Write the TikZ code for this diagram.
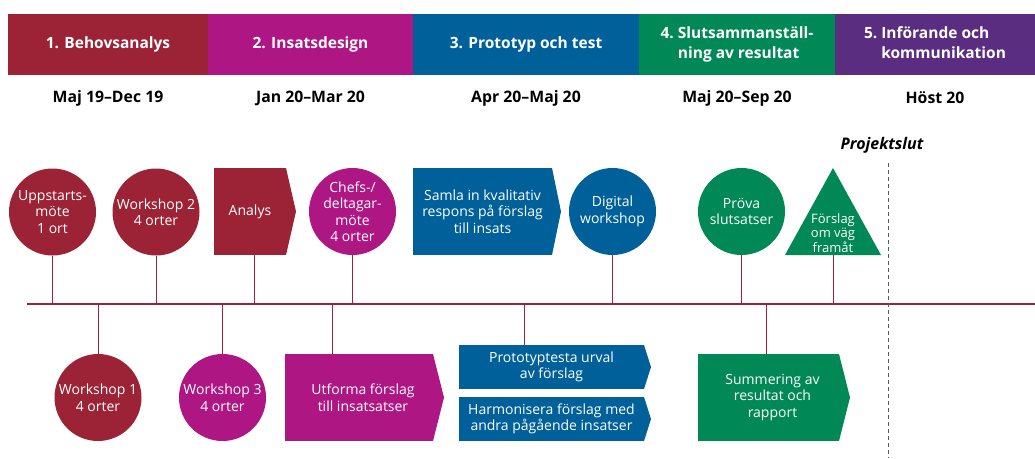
\documentclass[tikz,border=0pt]{standalone}
\usepackage{fontspec}
\setmainfont{Open Sans}
\usetikzlibrary{calc, positioning}

\definecolor{fasred}{RGB}{156,34,53}
\definecolor{fasmagenta}{RGB}{174,23,131}
\definecolor{fasblue}{RGB}{0,96,154}
\definecolor{fasgreen}{RGB}{0,136,86}
\definecolor{faspurple}{RGB}{90,45,129}

\begin{document}
\begin{tikzpicture}[x=1pt, y=-1pt,
    phase/.style={anchor=north west, minimum height=61, inner sep=0, outer sep=0, text=white,
      font=\bfseries\fontsize{15.5}{20}\selectfont, align=left},
    period/.style={font=\bfseries\fontsize{15.8}{18}\selectfont},
    event/.style={circle, minimum size=87, inner sep=0, text=white, align=center,
      font=\fontsize{14}{16.5}\selectfont},
    task/.style={rectangle, inner sep=0, outer sep=0, text=white, align=center,
      font=\fontsize{14}{16.5}\selectfont},
    stem/.style={fasred, line width=1}]
    \useasboundingbox (0,0) rectangle (1035,458);

    % Phase bar
    \node[phase, fill=fasred, minimum width=200, align=center] (phase1) at (8,14) {1. Behovsanalys};
    \node[phase, fill=fasmagenta, minimum width=205, right=0 of phase1] (phase2) {2. Insatsdesign};
    \node[phase, fill=fasblue, minimum width=226, right=0 of phase2] (phase3) {3. Prototyp och test};
    \node[phase, fill=fasgreen, minimum width=196, right=0 of phase3] (phase4)
      {\begin{tabular}{@{}l@{\ }l@{}}4.&Slutsammanställ-\\&ning av resultat\end{tabular}};
    \node[phase, fill=faspurple, minimum width=200, right=0 of phase4] (phase5)
      {\begin{tabular}{@{}l@{\ }l@{}}5.&Införande och\\&kommunikation\end{tabular}};

    % Periods under each phase
    \foreach \p/\t in {1/Maj 19--Dec 19, 2/Jan 20--Mar 20, 3/Apr 20--Maj 20, 4/Maj 20--Sep 20, 5/Höst 20}
      \node[period] (period\p) at ($(phase\p.south)+(0,23)$) {\t};

    % Time line
    \coordinate (tl-start) at (27,304);
    \coordinate (tl-end) at (1035,304);
    \draw[fasred, line width=1.5] (tl-start) -- (tl-end);

    % Project end
    \node[font=\bfseries\itshape\fontsize{16}{18}\selectfont] (slut) at (882,145) {Projektslut};
    \coordinate (slut-top) at (888,163);
    \coordinate (slut-bot) at (888,458);
    \draw[black!65, line width=1, dash pattern=on 4pt off 3pt] (slut-top) -- (slut-bot);

    % Activities above the line
    \node[event, fill=fasred] (uppstart) at (52.5,212) {Uppstarts-\\möte\\1 ort};
    \node[event, fill=fasred] (ws2) at (156,212) {Workshop 2\\4 orter};
    \node[task, fill=fasred, minimum width=72, minimum height=87] (analys) at (250,211.5) {Analys};
    \node[event, fill=fasmagenta] (chefs) at (352.5,211.5) {Chefs-/\\deltagar-\\möte\\4 orter};
    \node[task, fill=fasblue, minimum width=139, minimum height=87] (samla) at (482.5,211.5)
      {Samla in kvalitativ\\respons på förslag\\till insats};
    \node[event, fill=fasblue] (digital) at (612.5,211.5) {Digital\\workshop};
    \node[event, fill=fasgreen] (prova) at (741.5,211.5) {Pröva\\slutsatser};
    \fill[fasgreen] (833,168) -- (881,255) -- (785,255) -- cycle;
    \coordinate (forslag-base) at (833,255);
    \node[text=white, align=center, font=\fontsize{13}{14.7}\selectfont] (forslag) at (833,233)
      {Förslag\\om väg\\framåt};

    % Activities below the line
    \node[event, fill=fasred] (ws1) at (98,397.5) {Workshop 1\\4 orter};
    \node[event, fill=fasmagenta] (ws3) at (222.5,397.5) {Workshop 3\\4 orter};
    \node[task, fill=fasmagenta, minimum width=148, minimum height=87] (utforma) at (359,397.5)
      {\hspace*{8pt}Utforma förslag\\\hspace*{8pt}till insatsatser};
    \node[task, fill=fasblue, minimum width=185, minimum height=44] (prototyp) at (551.5,367)
      {Prototyptesta urval\\av förslag};
    \node[task, fill=fasblue, minimum width=185, minimum height=44] (harmon) at (551.5,419)
      {Harmonisera förslag med\\andra pågående insatser};
    \node[task, fill=fasgreen, minimum width=141, minimum height=87] (summering) at (768.5,397.5)
      {\hspace*{8pt}Summering av\\\hspace*{8pt}resultat och\\\hspace*{8pt}rapport};

    % Arrow tips on the boxes
    \foreach \n/\c/\p in {analys/fasred/10, samla/fasblue/9, utforma/fasmagenta/11,
        prototyp/fasblue/7, harmon/fasblue/7, summering/fasgreen/11}
      \fill[\c] (\n.north east) -- ($(\n.east)+(\p,0)$) -- (\n.south east) -- cycle;

    % Stems to the time line
    \foreach \n in {uppstart, ws2, chefs, digital, prova}
      \draw[stem] (\n.south) -- (\n.south |- tl-start);
    \foreach \n in {ws1, ws3}
      \draw[stem] (\n.north) -- (\n.north |- tl-start);
    \draw[stem] (forslag-base) -- (forslag-base |- tl-start);
    \coordinate (s-analys) at (254,304);
    \coordinate (s-utforma) at (332,304);
    \coordinate (s-prototyp) at (524,304);
    \coordinate (s-summering) at (766,304);
    \draw[stem] (s-analys |- analys.south) -- (s-analys);
    \draw[stem] (s-utforma) -- (s-utforma |- utforma.north);
    \draw[stem] (s-prototyp) -- (s-prototyp |- prototyp.north);
    \draw[stem] (s-summering) -- (s-summering |- summering.north);
\end{tikzpicture}
\end{document}
